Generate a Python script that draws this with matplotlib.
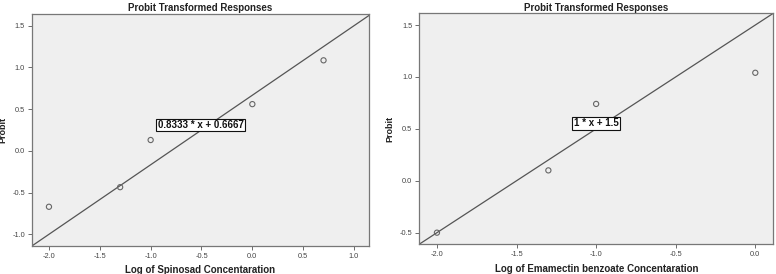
import matplotlib
matplotlib.use("Agg")
import matplotlib.pyplot as plt

plt.rcParams['font.family'] = ['Liberation Sans', 'DejaVu Sans']

# Left panel data (Spinosad)
spin_x = [-2.0, -1.3, -1.0, 0.0, 0.7]
spin_y = [-0.67, -0.435, 0.13, 0.56, 1.085]
spin_slope = 0.8333
spin_intercept = 0.6667
spin_label = "0.8333 * x + 0.6667"
spin_xticks = [-2.0, -1.5, -1.0, -0.5, 0.0, 0.5, 1.0]
spin_yticks = [-1.0, -0.5, 0.0, 0.5, 1.0, 1.5]

# Right panel data (Emamectin benzoate)
ema_x = [-2.0, -1.3, -1.0, 0.0]
ema_y = [-0.5, 0.10, 0.74, 1.04]
ema_slope = 1.0
ema_intercept = 1.5
ema_label = "1 * x + 1.5"
ema_xticks = [-2.0, -1.5, -1.0, -0.5, 0.0]
ema_yticks = [-0.5, 0.0, 0.5, 1.0, 1.5]

fig = plt.figure(figsize=(7.76, 2.74), dpi=100)
fig.patch.set_facecolor('white')

def panel(rect, xs, ys, slope, intercept, label, xticks, yticks, xlim, ylim,
          xlabel, box_xy, ylab_x):
    ax = fig.add_axes(rect)
    ax.set_facecolor('#efefef')
    ax.axline((0, intercept), slope=slope, color='#555555', lw=0.9, zorder=2)
    ax.scatter(xs, ys, s=14, facecolors='none', edgecolors='#666666',
               linewidths=0.8, zorder=3)
    ax.set_xlim(*xlim)
    ax.set_ylim(*ylim)
    ax.set_xticks(xticks)
    ax.set_yticks(yticks)
    ax.set_xticklabels([f"{t:.1f}" for t in xticks])
    ax.set_yticklabels([f"{t:.1f}" for t in yticks])
    ax.tick_params(axis='both', direction='out', length=3, width=0.6,
                   labelsize=5.3, colors='#555555', labelcolor='#444444', pad=2)
    for sp in ax.spines.values():
        sp.set_color('#777777')
        sp.set_linewidth(0.9)
    ax.set_title("Probit Transformed Responses", fontsize=7, fontweight='bold',
                 color='#222222', pad=2)
    ax.set_xlabel(xlabel, fontsize=7, fontweight='bold', color='#222222',
                  labelpad=4)
    ax.set_ylabel("Probit", fontsize=6.5, fontweight='bold', color='#222222')
    ax.yaxis.set_label_coords(ylab_x, 0.5)
    ax.text(box_xy[0], box_xy[1], label, ha='center', va='center',
            fontsize=7, fontweight='bold', color='#111111', zorder=4,
            bbox=dict(boxstyle='square,pad=0.15', facecolor='white',
                      edgecolor='#111111', linewidth=0.8))
    return ax

panel([0.0412, 0.1022, 0.4343, 0.8467], spin_x, spin_y, spin_slope,
      spin_intercept, spin_label, spin_xticks, spin_yticks,
      (-2.167, 1.147), (-1.14, 1.64), "Log of Spinosad Concentaration",
      (-0.51, 0.31), -0.072)

panel([0.5403, 0.1084, 0.4562, 0.8431], ema_x, ema_y, ema_slope,
      ema_intercept, ema_label, ema_xticks, ema_yticks,
      (-2.111, 0.113), (-0.612, 1.613),
      "Log of Emamectin benzoate Concentaration", (-1.0, 0.553), -0.07)

fig.savefig("out.png", dpi=100)
